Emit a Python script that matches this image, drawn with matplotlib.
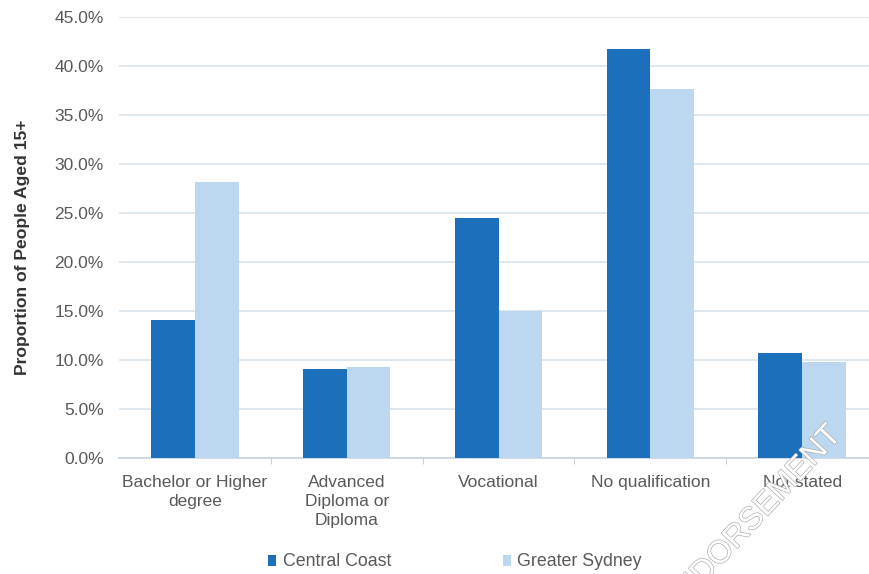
import numpy as np
import matplotlib.pyplot as plt
import matplotlib.patheffects as pe
from matplotlib.ticker import FuncFormatter, FixedLocator

plt.rcParams['font.family'] = ['Liberation Sans', 'DejaVu Sans']

categories = ["Bachelor or Higher\ndegree", "Advanced\nDiploma or\nDiploma",
              "Vocational", "No qualification", "Not stated"]
central_coast = [14.1, 9.1, 24.5, 41.7, 10.7]
greater_sydney = [28.2, 9.3, 15.0, 37.7, 9.8]

dark_blue = '#1c6fba'
light_blue = '#bcd8f1'
text_grey = '#595959'

fig = plt.figure(figsize=(8.7, 5.74), dpi=100)
ax = fig.add_axes([0.1368, 0.2021, 0.8724, 0.7683])

x = np.arange(len(categories))
w = 0.288
ax.bar(x - w / 2, central_coast, w, color=dark_blue, label='Central Coast', zorder=3)
ax.bar(x + w / 2, greater_sydney, w, color=light_blue, label='Greater Sydney', zorder=3)

ax.set_xlim(-0.5, len(categories) - 0.5)
ax.set_ylim(0, 45)
ax.set_yticks(np.arange(0, 46, 5))
ax.yaxis.set_major_formatter(FuncFormatter(lambda v, _: f"{v:.1f}%"))
ax.grid(axis='y', color='#d9e3ec', linewidth=1.2, zorder=0)
ax.set_axisbelow(True)

ax.set_xticks(x)
ax.set_xticklabels(categories, fontsize=12.5, color=text_grey, linespacing=1.35)
ax.xaxis.set_minor_locator(FixedLocator(np.arange(0.5, len(categories) - 1, 1)))
ax.tick_params(axis='x', which='major', length=0, pad=12)
ax.tick_params(axis='x', which='minor', length=4, color='#c8c8c8')
ax.tick_params(axis='y', length=0, labelsize=12.5, labelcolor=text_grey, pad=11)

for s in ['top', 'right', 'left']:
    ax.spines[s].set_visible(False)
ax.spines['bottom'].set_color('#c8d3dd')
ax.spines['bottom'].set_linewidth(1.2)

ax.set_ylabel("Proportion of People Aged 15+", fontsize=12.6, fontweight='bold',
              color='#333333')
ax.yaxis.set_label_coords(-0.117, 0.478)

fig.legend(loc='center', bbox_to_anchor=(0.523, 0.021), ncol=2, frameon=False,
           fontsize=12.8, labelcolor=text_grey, handlelength=0.45, handleheight=0.55,
           handletextpad=0.35, columnspacing=6.3)

# faint diagonal stamp across the lower right
fig.text(848 / 870, 1 - 440 / 574, "NOT FOR ENDORSEMENT", fontsize=23,
         color='white', rotation=47, rotation_mode='anchor', ha='right', va='bottom',
         path_effects=[pe.Stroke(linewidth=0.9, foreground='#a8a8a8'), pe.Normal()],
         zorder=10)

fig.savefig('out.png', dpi=100)
